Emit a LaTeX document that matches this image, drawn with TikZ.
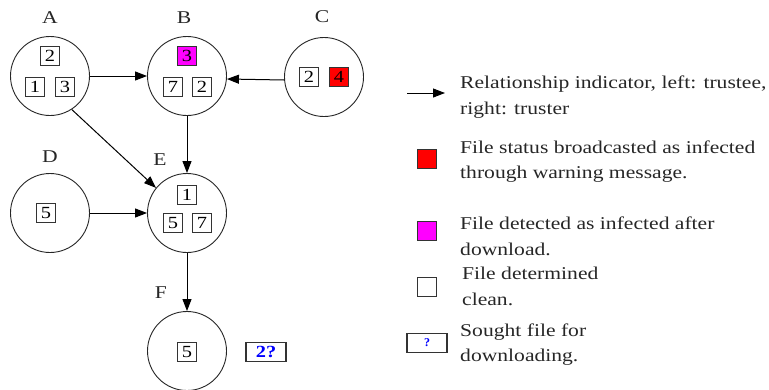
\documentclass[tikz,border=0pt]{standalone}
\usepackage{fontspec}
\setmainfont{Liberation Serif}
\newfontfamily\wideserif{Liberation Serif}[FakeStretch=1.2]
\usetikzlibrary{arrows.meta}
\definecolor{warnred}{RGB}{255,0,0}
\definecolor{detmag}{RGB}{255,0,255}
\definecolor{qblue}{RGB}{0,0,255}
\begin{document}
\begin{tikzpicture}[x=1pt,y=-1pt,
  peer/.style={circle,draw=black!85,line width=0.9pt,minimum size=79pt,inner sep=0pt},
  lbl/.style={font=\wideserif\fontsize{18}{18}\selectfont,inner sep=0pt,text=black!85},
  filebox/.style={draw=black!80,line width=1.4pt,minimum width=19pt,minimum height=19pt,inner sep=0pt,
     font=\wideserif\fontsize{17}{17}\selectfont},
  clean/.style={filebox,fill=white},
  detected/.style={filebox,fill=detmag},
  warned/.style={filebox,fill=warnred},
  sought/.style={filebox,minimum width=40pt,text=qblue},
  rel/.style={-{Triangle[length=12pt,width=9pt]},line width=1pt,black},
  legtext/.style={font=\wideserif\fontsize{18}{18}\selectfont,inner sep=0pt,anchor=base west,text=black!85}
]
\useasboundingbox (0,0) rectangle (769,389);

% peers
\node[peer] (A) at (50,76) {};
\node[peer] (B) at (187,76) {};
\node[peer] (C) at (324,77) {};
\node[peer] (D) at (50,213) {};
\node[peer] (E) at (187,213) {};
\node[peer] (F) at (187,351) {};

% peer labels
\node[lbl] (lA) at (50,18) {A};
\node[lbl] (lB) at (184,18) {B};
\node[lbl] (lC) at (322,17) {C};
\node[lbl] (lD) at (50,157) {D};
\node[lbl] (lE) at (160,160) {E};
\node[lbl] (lF) at (161,293) {F};

% files
\node[clean] (A2) at (50,56) {2};
\node[clean] (A1) at (35,87) {1};
\node[clean] (A3) at (65,87) {3};
\node[detected] (B3) at (187,56) {3};
\node[clean] (B7) at (173,87) {7};
\node[clean] (B2) at (202,87) {2};
\node[clean] (C2) at (309,77) {2};
\node[warned] (C4) at (339,77) {4};
\node[clean] (D5) at (46,213) {5};
\node[clean] (E1) at (187,195) {1};
\node[clean] (E5) at (173,223) {5};
\node[clean] (E7) at (202,223) {7};
\node[clean] (F5) at (187,352) {5};
\node[sought,font=\wideserif\bfseries\fontsize{17}{17}\selectfont] (Fq) at (266,352) {2?};

% relationships
\draw[rel] (A.east) -- (B.west);
\draw[rel] ([yshift=-3pt]C.west) -- ([yshift=-3pt]B.east);
\draw[rel] (A.-57) -- (E.141);
\draw[rel] (B.south) -- (E.north);
\draw[rel] (D.east) -- (E.west);
\draw[rel] (E.south) -- (F.north);

% legend
\coordinate (la1) at (407,93);
\coordinate (la2) at (445,93);
\draw[rel] (la1) -- (la2);
\node[legtext] (t1a) at (460,88) {Relationship indicator, left: trustee,};
\node[legtext] (t1b) at (460,114) {right: truster};

\node[warned] (kred) at (427,159) {};
\node[legtext] (t2a) at (460,153) {File status broadcasted as infected};
\node[legtext] (t2b) at (460,178) {through warning message.};

\node[detected] (kmag) at (427,231) {};
\node[legtext] (t3a) at (460,229) {File detected as infected after};
\node[legtext] (t3b) at (460,255) {download.};

\node[clean] (kclean) at (427,287) {};
\node[legtext] (t4a) at (462,279) {File determined};
\node[legtext] (t4b) at (462,305) {clean.};

\node[sought,font=\bfseries\fontsize{12}{12}\selectfont] (kq) at (427,343) {?};
\node[legtext] (t5a) at (460,336) {Sought file for};
\node[legtext] (t5b) at (460,361) {downloading.};
\end{tikzpicture}
\end{document}
